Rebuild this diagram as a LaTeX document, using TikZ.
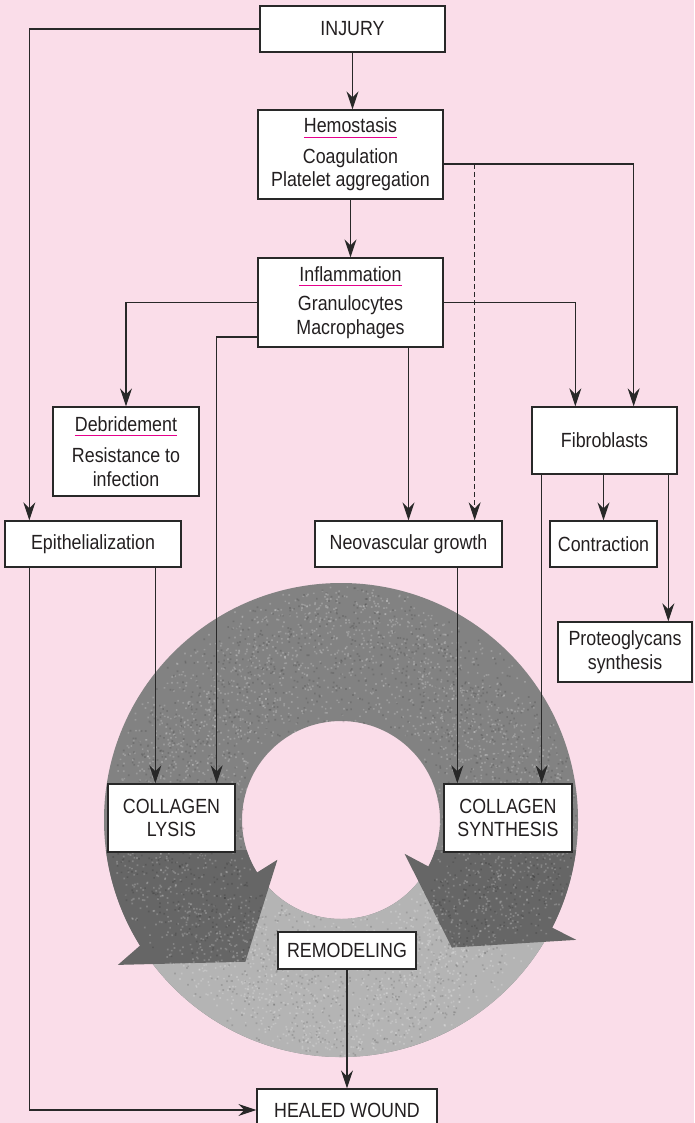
\documentclass[tikz,border=0pt]{standalone}
\usepackage{fontspec}
\setmainfont{Liberation Sans}[FakeStretch=0.87]
\usetikzlibrary{arrows.meta,calc}
\definecolor{bgpink}{RGB}{250,221,233}
\definecolor{ink}{RGB}{35,31,32}
\definecolor{edge}{RGB}{40,40,40}
\definecolor{accent}{RGB}{230,0,140}
\definecolor{ringmid}{RGB}{130,130,130}
\definecolor{ringdark}{RGB}{102,102,102}
\definecolor{ringlight}{RGB}{180,180,180}
% heading with a coloured rule under it
\newcommand\hdr[1]{\setbox0=\hbox{#1}\rlap{\color{accent}\rule[-5pt]{\wd0}{1.2pt}}\box0}
\begin{document}
\begin{tikzpicture}[x=1pt,y=-1pt,
  box/.style={draw=edge, line width=1.3pt, fill=white, inner sep=0pt, text=ink,
    font=\fontsize{20.5}{23.5}\selectfont, align=center},
  link/.style={draw=edge, line width=1.3pt},
  arr/.style={link, -{Stealth[length=18pt,width=12pt,inset=6pt]}},
  speck/.style={white, opacity=.2},
]
\fill[bgpink] (0,0) rectangle (694,1123);
\useasboundingbox (0,0) rectangle (694,1123);

% remodeling ring: grey annulus, light lower sector, two dark arrows
\coordinate (C) at (341,820);
\fill[ringmid, even odd rule] (C) circle[radius=237] (C) circle[radius=99];
\fill[ringlight] ($(C)+(27:237)$) arc[start angle=27, end angle=148, radius=237]
  -- ($(C)+(148:99)$) arc[start angle=148, end angle=27, radius=99] -- cycle;
\fill[ringdark] ($(C)+(172.73:237)$) arc[start angle=172.73, end angle=148, radius=237]
  -- ($(C)+(147:266)$) -- ($(C)+(124:171)$) -- ($(C)+(148:75)$)
  -- ($(C)+(148:99)$) arc[start angle=148, end angle=162.36, radius=99] -- cycle;
\fill[ringdark] ($(C)+(7.27:237)$) arc[start angle=7.27, end angle=27, radius=237]
  -- ($(C)+(27:264)$) -- ($(C)+(49:169)$) -- ($(C)+(28:72)$)
  -- ($(C)+(28:99)$) arc[start angle=28, end angle=17.64, radius=99] -- cycle;
% grain on the ring, small squares in batches
\pgfmathsetseed{11}
\foreach \k in {1,...,7}{
  \fill[speck] \foreach \i in {1,...,500}{
    ($(C)+({360*rnd}:{100*sqrt(0.9801+4.6368*rnd)-1.6})$) rectangle ++(1.7,1.7)};
}
\foreach \k in {1,...,4}{
  \fill[black, opacity=.13] \foreach \i in {1,...,500}{
    ($(C)+({360*rnd}:{100*sqrt(0.9801+4.6368*rnd)-1.6})$) rectangle ++(1.7,1.7)};
}

% boxes
\node[box, minimum width=185, minimum height=46] (injury) at (352.5,29) {INJURY};
\node[box, minimum width=185, minimum height=89] (hemo) at (350.5,154.5)
  {\hdr{Hemostasis}\\[7pt]Coagulation\\Platelet aggregation};
\node[box, minimum width=185, minimum height=89] (infl) at (350.5,302.5)
  {\hdr{Inflammation}\\[6pt]Granulocytes\\Macrophages};
\node[box, minimum width=146, minimum height=89] (deb) at (126,451.5)
  {\hdr{Debridement}\\[8pt]Resistance to\\infection};
\node[box, minimum width=145, minimum height=67] (fibro) at (604.5,440.5) {Fibroblasts};
\node[box, minimum width=176, minimum height=46] (epi) at (93,544) {Epithelialization};
\node[box, minimum width=187, minimum height=46] (neo) at (408.5,544) {Neovascular growth};
\node[box, minimum width=107, minimum height=46] (contr) at (603.5,544) {Contraction};
\node[box, minimum width=134, minimum height=60] (proteo) at (625,652)
  {Proteoglycans\\synthesis};
\node[box, minimum width=127, minimum height=68] (lysis) at (171.5,818)
  {COLLAGEN\\LYSIS};
\node[box, minimum width=128, minimum height=68] (synth) at (508,818)
  {COLLAGEN\\SYNTHESIS};
\node[box, minimum width=138, minimum height=37] (remod) at (347,950.5) {REMODELING};
\node[box, minimum width=180, minimum height=42] (healed) at (347,1110) {HEALED WOUND};

% connectors
\coordinate (hemoR) at ([yshift=-9.5pt]hemo.east);
\coordinate (neoD) at ([xshift=-28pt]neo.north east);
\coordinate (inflLL) at ([yshift=-34.5pt]infl.west);
\coordinate (lysisR) at ([xshift=-19pt]lysis.north east);
\coordinate (lysisL) at ([xshift=48pt]lysis.north west);
\coordinate (synthL) at ([xshift=14pt]synth.north west);
\coordinate (synthR) at ([xshift=-31pt]synth.north east);
\coordinate (proteoT) at ([xshift=111pt]proteo.north west);

\draw[arr] (injury.west) -| ([xshift=25pt]epi.north west);
\draw[arr] (injury.south) -- (injury.south |- hemo.north);
\draw[arr] (hemo.south) -- (infl.north);
\draw[arr] (hemoR) -| ([xshift=-44pt]fibro.north east);
\draw[arr, dash pattern=on 5pt off 3pt] (neoD |- hemoR) -- (neoD);
\draw[arr] (infl.west) -| (deb.north);
\draw[arr] (inflLL) -| (lysisR);
\draw[arr] (infl.east) -| ([xshift=44pt]fibro.north west);
\draw[arr] (infl.south -| neo.north) -- (neo.north);
\draw[arr] (epi.south -| lysisL) -- (lysisL);
\draw[arr] ([xshift=25pt]epi.south west) |- (healed.west);
\draw[arr] (neo.south -| synthL) -- (synthL);
\draw[arr] (fibro.south -| synthR) -- (synthR);
\draw[arr] (fibro.south -| contr.north) -- (contr.north);
\draw[arr] (fibro.south -| proteoT) -- (proteoT);
\draw[arr] (remod.south) -- (healed.north);
\end{tikzpicture}
\end{document}
